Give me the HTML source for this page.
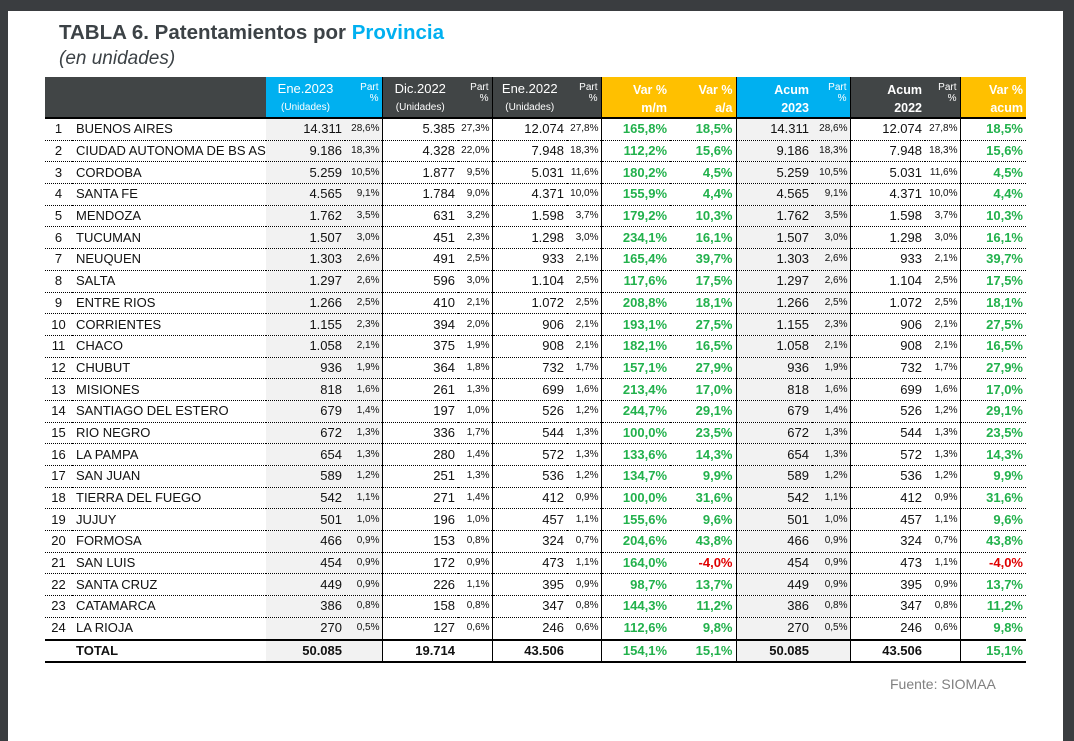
<!DOCTYPE html>
<html><head><meta charset="utf-8"><style>
body{margin:0;width:1074px;height:735px;background:#3a3d40;position:relative;overflow:hidden;font-family:"Liberation Sans",Arial,sans-serif;}
#pg{position:absolute;left:8px;top:11px;width:1055px;height:730px;background:#fff;}
#t1{position:absolute;left:59px;top:21px;font-size:20.5px;font-weight:bold;color:#3c4246;}
#t1 span{color:#00b0f0;}
#t2{position:absolute;left:59px;top:48px;font-size:19px;font-style:italic;color:#3c4246;}
table{position:absolute;left:45px;top:77px;border-collapse:collapse;table-layout:fixed;width:981px;font-size:13px;color:#111;}
td{padding:0 3px 0 0;height:20.7px;text-align:right;white-space:nowrap;overflow:hidden;border-bottom:1px dotted #000;line-height:18px;}
td.p{font-size:10px;padding-right:2px;}
td.n{text-align:center;padding:0;}
td.nm{text-align:left;padding-left:4px;}
.g{background:#f2f2f2;}
.gr{color:#22b14c;font-weight:bold;}
.rd{color:#e00000;font-weight:bold;}
.L{border-left:1.5px solid #000;}
thead td{height:39px;border-bottom:2px solid #000;color:#fff;background:#414546;vertical-align:top;line-height:normal;}
thead .b{background:#00b0f0;}
thead .o{background:#ffc000;}
.h1{font-size:13px;margin-top:4px;}
.h2{font-size:10px;margin-top:6px;}
.hp{font-size:10px;margin-top:5px;line-height:11px;}
.hv{font-weight:bold;font-size:12.5px;margin-top:4px;line-height:18px;}
tr.tot td{font-weight:bold;border-bottom:2px solid #000;height:20px;}
tr.last td{border-bottom:2px solid #000;}
#src{position:absolute;left:890px;top:676px;font-size:14px;color:#808080;}
</style></head><body>
<div id="pg"></div>
<div id="t1">TABLA 6. Patentamientos por <span>Provincia</span></div>
<div id="t2">(en unidades)</div>
<table>
<colgroup><col style="width:27px"><col style="width:194px"><col style="width:79px"><col style="width:37px"><col style="width:76px"><col style="width:34px"><col style="width:75px"><col style="width:34px"><col style="width:69px"><col style="width:66px"><col style="width:76px"><col style="width:38px"><col style="width:75px"><col style="width:35px"><col style="width:66px"></colgroup>
<thead><tr>
<td></td><td></td>
<td class="b" style="text-align:center;padding:0"><div class="h1">Ene.2023</div><div class="h2">(Unidades)</div></td><td class="b"><div class="hp">Part<br>%</div></td>
<td class="L" style="text-align:center;padding:0"><div class="h1">Dic.2022</div><div class="h2">(Unidades)</div></td><td><div class="hp">Part<br>%</div></td>
<td class="L" style="text-align:center;padding:0"><div class="h1">Ene.2022</div><div class="h2">(Unidades)</div></td><td><div class="hp">Part<br>%</div></td>
<td class="o L"><div class="hv">Var %<br>m/m</div></td><td class="o"><div class="hv">Var %<br>a/a</div></td>
<td class="b L"><div class="hv">Acum<br>2023</div></td><td class="b"><div class="hp">Part<br>%</div></td>
<td class="L"><div class="hv">Acum<br>2022</div></td><td><div class="hp">Part<br>%</div></td>
<td class="o L"><div class="hv">Var %<br>acum</div></td>
</tr></thead>
<tbody>
<tr><td class="n">1</td><td class="nm">BUENOS AIRES</td><td class="g">14.311</td><td class="g p">28,6%</td><td class="L">5.385</td><td class="p">27,3%</td><td class="L">12.074</td><td class="p">27,8%</td><td class="L gr">165,8%</td><td class="gr">18,5%</td><td class="L g">14.311</td><td class="g p">28,6%</td><td class="L">12.074</td><td class="p">27,8%</td><td class="L gr">18,5%</td></tr>
<tr><td class="n">2</td><td class="nm">CIUDAD AUTONOMA DE BS AS</td><td class="g">9.186</td><td class="g p">18,3%</td><td class="L">4.328</td><td class="p">22,0%</td><td class="L">7.948</td><td class="p">18,3%</td><td class="L gr">112,2%</td><td class="gr">15,6%</td><td class="L g">9.186</td><td class="g p">18,3%</td><td class="L">7.948</td><td class="p">18,3%</td><td class="L gr">15,6%</td></tr>
<tr><td class="n">3</td><td class="nm">CORDOBA</td><td class="g">5.259</td><td class="g p">10,5%</td><td class="L">1.877</td><td class="p">9,5%</td><td class="L">5.031</td><td class="p">11,6%</td><td class="L gr">180,2%</td><td class="gr">4,5%</td><td class="L g">5.259</td><td class="g p">10,5%</td><td class="L">5.031</td><td class="p">11,6%</td><td class="L gr">4,5%</td></tr>
<tr><td class="n">4</td><td class="nm">SANTA FE</td><td class="g">4.565</td><td class="g p">9,1%</td><td class="L">1.784</td><td class="p">9,0%</td><td class="L">4.371</td><td class="p">10,0%</td><td class="L gr">155,9%</td><td class="gr">4,4%</td><td class="L g">4.565</td><td class="g p">9,1%</td><td class="L">4.371</td><td class="p">10,0%</td><td class="L gr">4,4%</td></tr>
<tr><td class="n">5</td><td class="nm">MENDOZA</td><td class="g">1.762</td><td class="g p">3,5%</td><td class="L">631</td><td class="p">3,2%</td><td class="L">1.598</td><td class="p">3,7%</td><td class="L gr">179,2%</td><td class="gr">10,3%</td><td class="L g">1.762</td><td class="g p">3,5%</td><td class="L">1.598</td><td class="p">3,7%</td><td class="L gr">10,3%</td></tr>
<tr><td class="n">6</td><td class="nm">TUCUMAN</td><td class="g">1.507</td><td class="g p">3,0%</td><td class="L">451</td><td class="p">2,3%</td><td class="L">1.298</td><td class="p">3,0%</td><td class="L gr">234,1%</td><td class="gr">16,1%</td><td class="L g">1.507</td><td class="g p">3,0%</td><td class="L">1.298</td><td class="p">3,0%</td><td class="L gr">16,1%</td></tr>
<tr><td class="n">7</td><td class="nm">NEUQUEN</td><td class="g">1.303</td><td class="g p">2,6%</td><td class="L">491</td><td class="p">2,5%</td><td class="L">933</td><td class="p">2,1%</td><td class="L gr">165,4%</td><td class="gr">39,7%</td><td class="L g">1.303</td><td class="g p">2,6%</td><td class="L">933</td><td class="p">2,1%</td><td class="L gr">39,7%</td></tr>
<tr><td class="n">8</td><td class="nm">SALTA</td><td class="g">1.297</td><td class="g p">2,6%</td><td class="L">596</td><td class="p">3,0%</td><td class="L">1.104</td><td class="p">2,5%</td><td class="L gr">117,6%</td><td class="gr">17,5%</td><td class="L g">1.297</td><td class="g p">2,6%</td><td class="L">1.104</td><td class="p">2,5%</td><td class="L gr">17,5%</td></tr>
<tr><td class="n">9</td><td class="nm">ENTRE RIOS</td><td class="g">1.266</td><td class="g p">2,5%</td><td class="L">410</td><td class="p">2,1%</td><td class="L">1.072</td><td class="p">2,5%</td><td class="L gr">208,8%</td><td class="gr">18,1%</td><td class="L g">1.266</td><td class="g p">2,5%</td><td class="L">1.072</td><td class="p">2,5%</td><td class="L gr">18,1%</td></tr>
<tr><td class="n">10</td><td class="nm">CORRIENTES</td><td class="g">1.155</td><td class="g p">2,3%</td><td class="L">394</td><td class="p">2,0%</td><td class="L">906</td><td class="p">2,1%</td><td class="L gr">193,1%</td><td class="gr">27,5%</td><td class="L g">1.155</td><td class="g p">2,3%</td><td class="L">906</td><td class="p">2,1%</td><td class="L gr">27,5%</td></tr>
<tr><td class="n">11</td><td class="nm">CHACO</td><td class="g">1.058</td><td class="g p">2,1%</td><td class="L">375</td><td class="p">1,9%</td><td class="L">908</td><td class="p">2,1%</td><td class="L gr">182,1%</td><td class="gr">16,5%</td><td class="L g">1.058</td><td class="g p">2,1%</td><td class="L">908</td><td class="p">2,1%</td><td class="L gr">16,5%</td></tr>
<tr><td class="n">12</td><td class="nm">CHUBUT</td><td class="g">936</td><td class="g p">1,9%</td><td class="L">364</td><td class="p">1,8%</td><td class="L">732</td><td class="p">1,7%</td><td class="L gr">157,1%</td><td class="gr">27,9%</td><td class="L g">936</td><td class="g p">1,9%</td><td class="L">732</td><td class="p">1,7%</td><td class="L gr">27,9%</td></tr>
<tr><td class="n">13</td><td class="nm">MISIONES</td><td class="g">818</td><td class="g p">1,6%</td><td class="L">261</td><td class="p">1,3%</td><td class="L">699</td><td class="p">1,6%</td><td class="L gr">213,4%</td><td class="gr">17,0%</td><td class="L g">818</td><td class="g p">1,6%</td><td class="L">699</td><td class="p">1,6%</td><td class="L gr">17,0%</td></tr>
<tr><td class="n">14</td><td class="nm">SANTIAGO DEL ESTERO</td><td class="g">679</td><td class="g p">1,4%</td><td class="L">197</td><td class="p">1,0%</td><td class="L">526</td><td class="p">1,2%</td><td class="L gr">244,7%</td><td class="gr">29,1%</td><td class="L g">679</td><td class="g p">1,4%</td><td class="L">526</td><td class="p">1,2%</td><td class="L gr">29,1%</td></tr>
<tr><td class="n">15</td><td class="nm">RIO NEGRO</td><td class="g">672</td><td class="g p">1,3%</td><td class="L">336</td><td class="p">1,7%</td><td class="L">544</td><td class="p">1,3%</td><td class="L gr">100,0%</td><td class="gr">23,5%</td><td class="L g">672</td><td class="g p">1,3%</td><td class="L">544</td><td class="p">1,3%</td><td class="L gr">23,5%</td></tr>
<tr><td class="n">16</td><td class="nm">LA PAMPA</td><td class="g">654</td><td class="g p">1,3%</td><td class="L">280</td><td class="p">1,4%</td><td class="L">572</td><td class="p">1,3%</td><td class="L gr">133,6%</td><td class="gr">14,3%</td><td class="L g">654</td><td class="g p">1,3%</td><td class="L">572</td><td class="p">1,3%</td><td class="L gr">14,3%</td></tr>
<tr><td class="n">17</td><td class="nm">SAN JUAN</td><td class="g">589</td><td class="g p">1,2%</td><td class="L">251</td><td class="p">1,3%</td><td class="L">536</td><td class="p">1,2%</td><td class="L gr">134,7%</td><td class="gr">9,9%</td><td class="L g">589</td><td class="g p">1,2%</td><td class="L">536</td><td class="p">1,2%</td><td class="L gr">9,9%</td></tr>
<tr><td class="n">18</td><td class="nm">TIERRA DEL FUEGO</td><td class="g">542</td><td class="g p">1,1%</td><td class="L">271</td><td class="p">1,4%</td><td class="L">412</td><td class="p">0,9%</td><td class="L gr">100,0%</td><td class="gr">31,6%</td><td class="L g">542</td><td class="g p">1,1%</td><td class="L">412</td><td class="p">0,9%</td><td class="L gr">31,6%</td></tr>
<tr><td class="n">19</td><td class="nm">JUJUY</td><td class="g">501</td><td class="g p">1,0%</td><td class="L">196</td><td class="p">1,0%</td><td class="L">457</td><td class="p">1,1%</td><td class="L gr">155,6%</td><td class="gr">9,6%</td><td class="L g">501</td><td class="g p">1,0%</td><td class="L">457</td><td class="p">1,1%</td><td class="L gr">9,6%</td></tr>
<tr><td class="n">20</td><td class="nm">FORMOSA</td><td class="g">466</td><td class="g p">0,9%</td><td class="L">153</td><td class="p">0,8%</td><td class="L">324</td><td class="p">0,7%</td><td class="L gr">204,6%</td><td class="gr">43,8%</td><td class="L g">466</td><td class="g p">0,9%</td><td class="L">324</td><td class="p">0,7%</td><td class="L gr">43,8%</td></tr>
<tr><td class="n">21</td><td class="nm">SAN LUIS</td><td class="g">454</td><td class="g p">0,9%</td><td class="L">172</td><td class="p">0,9%</td><td class="L">473</td><td class="p">1,1%</td><td class="L gr">164,0%</td><td class="rd">-4,0%</td><td class="L g">454</td><td class="g p">0,9%</td><td class="L">473</td><td class="p">1,1%</td><td class="L rd">-4,0%</td></tr>
<tr><td class="n">22</td><td class="nm">SANTA CRUZ</td><td class="g">449</td><td class="g p">0,9%</td><td class="L">226</td><td class="p">1,1%</td><td class="L">395</td><td class="p">0,9%</td><td class="L gr">98,7%</td><td class="gr">13,7%</td><td class="L g">449</td><td class="g p">0,9%</td><td class="L">395</td><td class="p">0,9%</td><td class="L gr">13,7%</td></tr>
<tr><td class="n">23</td><td class="nm">CATAMARCA</td><td class="g">386</td><td class="g p">0,8%</td><td class="L">158</td><td class="p">0,8%</td><td class="L">347</td><td class="p">0,8%</td><td class="L gr">144,3%</td><td class="gr">11,2%</td><td class="L g">386</td><td class="g p">0,8%</td><td class="L">347</td><td class="p">0,8%</td><td class="L gr">11,2%</td></tr>
<tr class="last"><td class="n">24</td><td class="nm">LA RIOJA</td><td class="g">270</td><td class="g p">0,5%</td><td class="L">127</td><td class="p">0,6%</td><td class="L">246</td><td class="p">0,6%</td><td class="L gr">112,6%</td><td class="gr">9,8%</td><td class="L g">270</td><td class="g p">0,5%</td><td class="L">246</td><td class="p">0,6%</td><td class="L gr">9,8%</td></tr>
<tr class="tot"><td></td><td class="nm">TOTAL</td><td class="g">50.085</td><td class="g"></td><td class="L">19.714</td><td></td><td class="L">43.506</td><td></td><td class="L gr">154,1%</td><td class="gr">15,1%</td><td class="L g">50.085</td><td class="g"></td><td class="L">43.506</td><td></td><td class="L gr">15,1%</td></tr>
</tbody></table>
<div id="src">Fuente: SIOMAA</div>
</body></html>
